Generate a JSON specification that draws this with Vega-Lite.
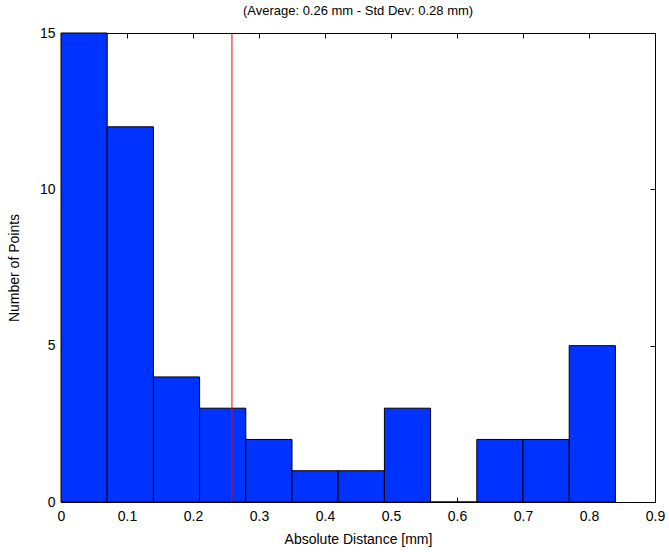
{
  "$schema": "https://vega.github.io/schema/vega-lite/v6.json",
  "width": 594,
  "height": 469,
  "autosize": "none",
  "padding": {"left": 61, "top": 33, "right": 14, "bottom": 50},
  "background": "white",
  "title": {
    "text": "(Average: 0.26 mm - Std Dev: 0.28 mm)",
    "font": "Liberation Sans",
    "fontSize": 13,
    "fontWeight": "normal",
    "color": "black",
    "anchor": "middle",
    "offset": 8
  },
  "config": {
    "view": {"stroke": "black", "strokeWidth": 1},
    "axis": {
      "labelFont": "Liberation Sans",
      "labelFontSize": 14,
      "labelColor": "black",
      "titleFont": "Liberation Sans",
      "titleFontSize": 14,
      "titleFontWeight": "normal",
      "titleColor": "black",
      "domainColor": "black",
      "tickColor": "black",
      "tickSize": -5,
      "grid": false
    }
  },
  "datasets": {
    "hist": [
      {"bin_start": 0.0, "bin_end": 0.07, "count": 15},
      {"bin_start": 0.07, "bin_end": 0.14, "count": 12},
      {"bin_start": 0.14, "bin_end": 0.21, "count": 4},
      {"bin_start": 0.21, "bin_end": 0.28, "count": 3},
      {"bin_start": 0.28, "bin_end": 0.35, "count": 2},
      {"bin_start": 0.35, "bin_end": 0.42, "count": 1},
      {"bin_start": 0.42, "bin_end": 0.49, "count": 1},
      {"bin_start": 0.49, "bin_end": 0.56, "count": 3},
      {"bin_start": 0.56, "bin_end": 0.63, "count": 0},
      {"bin_start": 0.63, "bin_end": 0.70, "count": 2},
      {"bin_start": 0.70, "bin_end": 0.77, "count": 2},
      {"bin_start": 0.77, "bin_end": 0.84, "count": 5}
    ],
    "stats": [{"mean": 0.259, "std": 0.28}]
  },
  "resolve": {"axis": {"x": "independent", "y": "independent"}},
  "layer": [
    {
      "data": {"name": "hist"},
      "mark": {"type": "bar", "orient": "vertical", "color": "#0033ff", "stroke": "black", "strokeWidth": 1, "opacity": 1},
      "encoding": {
        "x": {
          "field": "bin_start", "type": "quantitative",
          "scale": {"domain": [0, 0.9], "nice": false, "zero": false, "padding": 0},
          "axis": {"orient": "bottom", "values": [0, 0.1, 0.2, 0.3, 0.4, 0.5, 0.6, 0.7, 0.8, 0.9], "format": "~g", "title": "Absolute Distance [mm]", "labelPadding": 12, "titlePadding": 9, "labelFlush": false}
        },
        "x2": {"field": "bin_end"},
        "y": {
          "field": "count", "type": "quantitative",
          "scale": {"domain": [0, 15], "nice": false, "zero": true, "padding": 0},
          "axis": {"orient": "left", "values": [0, 5, 10, 15], "title": "Number of Points", "labelPadding": 11, "titlePadding": 18}
        },
        "y2": {"datum": 0}
      }
    },
    {
      "data": {"name": "stats"},
      "mark": {"type": "rule", "color": "#ff0000", "strokeWidth": 1},
      "encoding": {
        "x": {"field": "mean", "type": "quantitative", "axis": null}
      }
    },
    {
      "data": {"name": "hist"},
      "mark": {"type": "point", "opacity": 0},
      "encoding": {
        "x": {
          "field": "bin_start", "type": "quantitative",
          "axis": {"orient": "top", "values": [0, 0.1, 0.2, 0.3, 0.4, 0.5, 0.6, 0.7, 0.8, 0.9], "labels": false, "title": null}
        },
        "y": {
          "field": "count", "type": "quantitative",
          "axis": {"orient": "right", "values": [0, 5, 10, 15], "labels": false, "title": null}
        }
      }
    }
  ]
}
